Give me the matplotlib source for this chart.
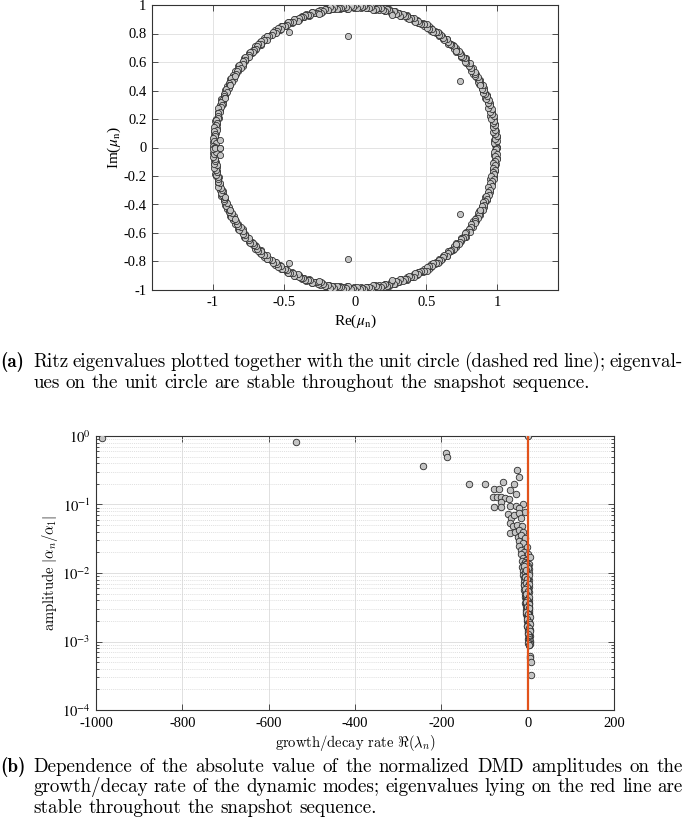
import numpy as np
import matplotlib
matplotlib.use("Agg")
import matplotlib.pyplot as plt
from matplotlib.patches import Circle
from matplotlib.ticker import LogLocator, NullFormatter

plt.rcParams['axes.unicode_minus'] = False
plt.rcParams['mathtext.fontset'] = 'stix'

# ---- (a) Ritz eigenvalues, upper half plane (conjugates mirrored below) ----
ring_deg = [
    0.3, 1.1, 2.4, 3.0, 4.2, 4.9, 5.9, 6.8, 7.6, 8.9,
    9.5, 10.6, 11.4, 12.5, 13.1, 14.3, 15.0, 16.2, 16.9, 18.1,
    18.8, 19.9, 20.7, 21.6, 22.8, 23.4, 24.6, 25.3, 26.5, 27.2,
    28.4, 29.0, 30.3, 31.1, 31.9, 33.0, 33.8, 35.0, 35.7, 36.8,
    37.6, 38.7, 39.5, 40.6, 41.3, 42.5, 43.2, 44.4, 45.0, 46.3,
    47.1, 48.0, 49.2, 49.9, 51.0, 51.8, 53.0, 53.6, 54.8, 55.5,
    56.7, 57.4, 58.5, 59.3, 60.4, 61.2, 62.3, 63.1, 64.2, 64.9,
    66.1, 66.9, 68.0, 68.7, 69.9, 70.6, 71.8, 72.5, 73.6, 74.4,
    75.5, 76.3, 77.4, 78.1, 79.3, 80.0, 81.2, 81.9, 83.0, 83.8,
    84.9, 85.7, 86.8, 87.5, 88.7, 89.4, 90.6, 91.3, 92.4, 93.2,
    94.3, 95.1, 96.2, 96.9, 98.1, 98.8, 99.9, 100.7, 101.8, 102.6,
    103.7, 104.4, 105.6, 106.3, 107.5, 108.2, 109.3, 110.1, 111.2, 112.0,
    113.1, 113.8, 115.0, 115.7, 116.8, 117.6, 118.7, 119.5, 120.6, 121.3,
    122.5, 123.2, 124.3, 125.1, 126.2, 127.0, 128.1, 128.8, 130.0, 130.7,
    131.9, 132.6, 133.7, 134.5, 135.6, 136.4, 137.5, 138.2, 139.4, 140.1,
    141.2, 142.0, 143.1, 143.9, 145.0, 145.7, 146.9, 147.6, 148.8, 149.5,
    150.6, 151.4, 152.5, 153.3, 154.4, 155.1, 156.3, 157.0, 158.2, 158.9,
    160.0, 160.8, 161.9, 162.7, 163.8, 164.5, 165.7, 166.4, 167.6, 168.3,
    169.4, 170.2, 171.3, 172.1, 173.2, 173.9, 175.1, 175.8, 177.0, 177.7,
    178.8, 179.6,
    0.7, 1.8, 2.7, 3.6, 4.5, 5.4, 6.3, 7.2, 8.3, 9.2,
    10.0, 11.0, 11.9, 12.8, 13.7, 14.6, 15.6, 16.5, 17.5, 18.4,
    19.4, 20.3, 21.2, 22.2, 23.1, 24.0, 24.9, 25.9, 26.8, 27.8,
    28.7, 29.7, 30.7, 31.5, 32.4, 33.4, 34.4, 35.3, 36.2, 37.2,
    38.1, 39.1, 40.0, 40.9, 41.9, 42.8, 43.8, 44.7, 45.6, 46.7,
    47.5, 48.6, 49.5, 50.4, 51.4, 52.4, 53.3, 54.2, 55.1, 56.1,
    57.0, 58.0, 58.9, 59.8, 60.8, 61.7, 62.7, 63.6, 64.5, 65.5,
    66.5, 67.4, 68.3, 69.3, 70.2, 71.2, 72.1, 73.0, 74.0, 74.9,
    75.9, 76.8, 77.7, 78.7, 79.6, 80.6, 81.5, 82.4, 83.4, 84.3,
    85.3, 86.2, 87.1, 88.1, 89.0, 90.0, 90.9, 91.8, 92.8, 93.7,
    94.7, 95.6, 96.5, 97.5, 98.4, 99.3, 100.3, 101.2, 102.2, 103.1,
    104.0, 105.0, 105.9, 106.9, 107.8, 108.7, 109.7, 110.6, 111.6, 112.5,
    113.4, 114.4, 115.3, 116.2, 117.2, 118.1, 119.1, 120.0, 120.9, 121.9,
    122.8, 123.7, 124.7, 125.6, 126.6, 127.5, 128.4, 129.4, 130.3, 131.3,
    132.2, 133.1, 134.1, 135.0, 136.0, 136.9, 137.8, 138.8, 139.7, 140.6,
    141.6, 142.5, 143.5, 144.4, 145.3, 146.3, 147.2, 148.2, 149.1, 150.0,
    151.0, 151.9, 152.9, 153.8, 154.7, 155.7, 156.6, 157.6, 158.5, 159.4,
    160.4, 161.3, 162.3, 163.2, 164.1, 165.1, 166.0, 167.0, 167.9, 168.8,
    169.8, 170.7, 171.7, 172.6, 173.5, 174.5, 175.4, 176.3, 177.3, 178.2,
    179.2, 179.9,
]
ring_mod = [
    0.998, 0.984, 0.992, 0.979, 0.996, 0.987, 0.981, 0.999, 0.990, 0.977,
    0.994, 0.983, 0.997, 0.988, 0.976, 0.995, 0.985, 0.991, 0.980, 0.998,
    0.986, 0.993, 0.978, 0.999, 0.989, 0.982, 0.996, 0.984, 0.992, 0.979,
    0.997, 0.988, 0.981, 0.994, 0.977, 0.990, 0.998, 0.983, 0.987, 0.995,
    0.982, 0.999, 0.986, 0.978, 0.993, 0.989, 0.976, 0.997, 0.984, 0.991,
    0.995, 0.980, 0.988, 0.998, 0.983, 0.992, 0.979, 0.996, 0.986, 0.990,
    0.977, 0.994, 0.999, 0.985, 0.981, 0.997, 0.989, 0.983, 0.993, 0.978,
    0.996, 0.987, 0.980, 0.998, 0.991, 0.976, 0.994, 0.985, 0.999, 0.982,
    0.990, 0.997, 0.979, 0.986, 0.995, 0.983, 0.992, 0.977, 0.998, 0.988,
    0.984, 0.996, 0.991, 0.978, 0.999, 0.987, 0.981, 0.994, 0.989, 0.976,
    0.997, 0.985, 0.980, 0.993, 0.998, 0.982, 0.990, 0.979, 0.995, 0.986,
    0.977, 0.999, 0.988, 0.983, 0.996, 0.991, 0.978, 0.994, 0.984, 0.997,
    0.989, 0.981, 0.998, 0.986, 0.976, 0.993, 0.999, 0.982, 0.987, 0.995,
    0.980, 0.992, 0.997, 0.978, 0.990, 0.985, 0.996, 0.983, 0.999, 0.988,
    0.994, 0.979, 0.986, 0.998, 0.981, 0.991, 0.977, 0.995, 0.989, 0.984,
    0.997, 0.982, 0.993, 0.976, 0.999, 0.987, 0.980, 0.996, 0.985, 0.990,
    0.978, 0.998, 0.988, 0.983, 0.994, 0.979, 0.997, 0.986, 0.992, 0.981,
    0.999, 0.984, 0.977, 0.995, 0.989, 0.982, 0.996, 0.987, 0.980, 0.993,
    0.998, 0.985, 0.991, 0.978, 0.997, 0.983, 0.994, 0.988, 0.976, 0.999,
    0.986, 0.992,
    0.989, 0.978, 0.995, 0.983, 0.999, 0.986, 0.976, 0.993, 0.981, 0.997,
    0.984, 0.991, 0.979, 0.998, 0.987, 0.982, 0.996, 0.977, 0.990, 0.985,
    0.999, 0.980, 0.992, 0.988, 0.976, 0.995, 0.983, 0.997, 0.986, 0.979,
    0.993, 0.998, 0.981, 0.987, 0.994, 0.978, 0.990, 0.984, 0.999, 0.982,
    0.977, 0.996, 0.988, 0.980, 0.992, 0.999, 0.985, 0.979, 0.994, 0.987,
    0.983, 0.990, 0.997, 0.976, 0.986, 0.993, 0.981, 0.998, 0.989, 0.978,
    0.995, 0.984, 0.979, 0.999, 0.991, 0.982, 0.987, 0.994, 0.977, 0.996,
    0.988, 0.980, 0.993, 0.985, 0.998, 0.976, 0.990, 0.983, 0.997, 0.981,
    0.992, 0.999, 0.978, 0.986, 0.995, 0.989, 0.982, 0.977, 0.994, 0.984,
    0.979, 0.996, 0.987, 0.991, 0.980, 0.998, 0.985, 0.993, 0.976, 0.990,
    0.997, 0.983, 0.988, 0.978, 0.994, 0.986, 0.999, 0.981, 0.992, 0.984,
    0.976, 0.995, 0.982, 0.990, 0.998, 0.979, 0.987, 0.996, 0.985, 0.993,
    0.989, 0.977, 0.997, 0.984, 0.991, 0.999, 0.980, 0.988, 0.994, 0.982,
    0.996, 0.986, 0.978, 0.993, 0.983, 0.990, 0.998, 0.976, 0.987, 0.995,
    0.981, 0.999, 0.992, 0.979, 0.988, 0.984, 0.995, 0.990, 0.977, 0.997,
    0.985, 0.993, 0.980, 0.998, 0.976, 0.991, 0.987, 0.983, 0.996, 0.989,
    0.999, 0.978, 0.994, 0.986, 0.982, 0.997, 0.979, 0.992, 0.988, 0.984,
    0.990, 0.996, 0.977, 0.985, 0.999, 0.981, 0.993, 0.987, 0.980, 0.995,
    0.983, 0.988, 0.998, 0.976, 0.994, 0.989, 0.984, 0.997, 0.991, 0.979,
    0.996, 0.986,
]
# eigenvalues away from the unit circle (upper half)
off_re = [-0.46, -0.05, 0.737, -0.95, -0.95, -0.25, 0.26, -0.91, -0.88, -0.845, 0.877, 0.71]
off_im = [0.81, 0.78, 0.47, 0.05, 0.0, 0.94, 0.93, 0.35, 0.44, 0.50, 0.44, 0.68]

# ---- (b) amplitude vs growth/decay rate ----
rate = [
    -986, -536, -243, -189, -186, -135, -98, 0,
    -24, -20, -58, -77, -66, -42, -31, -28, -80, -70, -61, -53, -62, -43,
    -77, -61, -42, -11, -26, -19, -7, -46, -38, -32, -21, -15, -42, -34,
    -25, -13, -40, -30, -20, -11, -22, -15, -6, -19, -11, -1, -21, -16,
    -9, 0, -15, -11, -3, 5,
    -13, -7, -1, 3, -10, -4, 1, -12, -6, 4, -9, -2, -11, -5, 2, -8, -3,
    -10, 0, -6, -9, -2, 3, -7, -4, -9, 1, -5, -8, -2, 2, -6, -3, -8, 0,
    -5, 3, -7, -2, -5, 1, -6, -3, 2, -4, -1, -6, 3, -3, 0, -5, 2, -2, 4,
    -4, 1, -1, 3, -3, 2, -1, 4, 0, -2, 3, 1, -1, 4, 2, 0, 5, 3, 1, 4, 2,
    5, 3, 1, 4, 2, 5, 3, 4, 2,
    -5, 0, -7, -4, 1, -1, -3, -9, 0, -3, -1, -3, 0, 1, -2, 1, -1, 3, 0,
    -2, 1, 3, 0, 2, 0, 3, 0, 2, 3, 4, 3, 4, 2,
    -8, -3, 2, -6, -1, -4, 2, -2, -6, 1, -4, 3, -1, -4, 2, -2, 4, -3, 1,
    5, -1, 2, 5, -1, 3, 5, 1, 4, 2, 6, 3, 5, 1, 3,
    5, 6, 7, 8,
]
amp = [
    0.925, 0.81, 0.37, 0.57, 0.50, 0.20, 0.20, 1.0,
    0.32, 0.25, 0.21, 0.168, 0.167, 0.163, 0.20, 0.142, 0.130, 0.13, 0.127,
    0.126, 0.11, 0.119, 0.091, 0.093, 0.095, 0.10, 0.095, 0.088, 0.079,
    0.072, 0.063, 0.07, 0.074, 0.063, 0.053, 0.049, 0.051, 0.048, 0.039,
    0.040, 0.042, 0.040, 0.034, 0.036, 0.032, 0.029, 0.027, 0.024, 0.025,
    0.0217, 0.0205, 0.0189, 0.019, 0.0163, 0.0155, 0.0173,
    0.0148, 0.0144, 0.0140, 0.0137, 0.0133, 0.0129, 0.0126, 0.0122, 0.0119,
    0.0116, 0.0113, 0.0110, 0.0107, 0.0104, 0.0101, 0.0098, 0.0095, 0.0093,
    0.0090, 0.0087, 0.0085, 0.0082, 0.0080, 0.0077, 0.0075, 0.0073, 0.0071,
    0.0069, 0.0067, 0.0065, 0.0063, 0.0061, 0.0059, 0.0057, 0.0055, 0.0053,
    0.0052, 0.0050, 0.0048, 0.0047, 0.0045, 0.0044, 0.0042, 0.0041, 0.0040,
    0.0038, 0.0037, 0.0036, 0.0035, 0.0034, 0.0033, 0.0032, 0.0031, 0.0030,
    0.0029, 0.0028, 0.0027, 0.0026, 0.0025, 0.0024, 0.0023, 0.0022, 0.0021,
    0.0020, 0.0019, 0.0018, 0.0017, 0.0016, 0.00155, 0.0015, 0.00145, 0.0014,
    0.00135, 0.0013, 0.00125, 0.0012, 0.00115, 0.0011, 0.00105, 0.0010,
    0.00097, 0.00094, 0.00091, 0.00089,
    0.0135, 0.0118, 0.0102, 0.0091, 0.0084, 0.0078, 0.0070, 0.0066, 0.0060,
    0.0056, 0.0051, 0.0046, 0.0043, 0.0039, 0.0036, 0.0033, 0.0030, 0.0028,
    0.0026, 0.0024, 0.0022, 0.0020, 0.0019, 0.0017, 0.0016, 0.0015, 0.0014,
    0.0013, 0.0012, 0.0011, 0.00102, 0.00095, 0.00092,
    0.0125, 0.0112, 0.0095, 0.0088, 0.0081, 0.0072, 0.0068, 0.0062, 0.0058,
    0.0054, 0.0049, 0.0045, 0.0041, 0.0038, 0.0035, 0.0032, 0.0031, 0.0027,
    0.0025, 0.0023, 0.0021, 0.0019, 0.0018, 0.0017, 0.0016, 0.0014, 0.0013,
    0.00118, 0.00108, 0.00101, 0.00098, 0.00093, 0.00096, 0.0009,
    0.00062, 0.00057, 0.00051, 0.00032,
]

cap_a = ("Ritz eigenvalues plotted together with the unit circle (dashed red line); eigenval-",
         "ues on the unit circle are stable throughout the snapshot sequence.")
cap_b = ("Dependence of the absolute value of the normalized DMD amplitudes on the",
         "growth/decay rate of the dynamic modes; eigenvalues lying on the red line are",
         "stable throughout the snapshot sequence.")

W, H = 685, 817
fig = plt.figure(figsize=(W / 100, H / 100), dpi=100)

face = '#c4c4c4'
edge = '#2b2b2b'
spine = '#333333'
tick_font = dict(family='Liberation Serif', size=10.5)


def style_axes(ax):
    for s in ax.spines.values():
        s.set_color(spine)
        s.set_linewidth(0.8)
    ax.tick_params(which='both', direction='in', top=True, right=True,
                   color=spine, width=0.6, labelsize=tick_font['size'], pad=4)
    ax.tick_params(which='major', length=4)
    ax.tick_params(which='minor', length=2)
    for lab in ax.get_xticklabels() + ax.get_yticklabels():
        lab.set_family(tick_font['family'])
    ax.set_axisbelow(True)


# ---- top panel ----
ax1 = fig.add_axes([152 / W, 1 - 290 / H, 406 / W, 285 / H])
th = np.deg2rad(ring_deg)
mod = np.array(ring_mod)
re_u = mod * np.cos(th)
im_u = mod * np.sin(th)
re_all = np.concatenate([re_u, re_u, off_re, off_re])
im_all = np.concatenate([im_u, -im_u, off_im, -np.array(off_im)])
ax1.add_patch(Circle((0, 0), 1, fill=False, ls=(0, (4, 3)), color='#e02020', lw=0.6, zorder=2))
ax1.scatter(re_all, im_all, s=20, facecolor=face, edgecolor=edge, linewidths=0.55, zorder=3)
ax1.set_xlim(-1.425, 1.425)
ax1.set_ylim(-1, 1)
ax1.set_xticks([-1, -0.5, 0, 0.5, 1])
ax1.set_xticklabels(['-1', '-0.5', '0', '0.5', '1'])
yt = [-1, -0.8, -0.6, -0.4, -0.2, 0, 0.2, 0.4, 0.6, 0.8, 1]
ax1.set_yticks(yt)
ax1.set_yticklabels(['-1', '-0.8', '-0.6', '-0.4', '-0.2', '0', '0.2', '0.4', '0.6', '0.8', '1'])
ax1.grid(True, color='#e3e3e3', lw=0.7)
style_axes(ax1)
ax1.set_xlabel(r'Re($\mu_{\rm n}$)', family='Liberation Serif', fontsize=11, labelpad=3)
ax1.set_ylabel(r'Im($\mu_{\rm n}$)', family='Liberation Serif', fontsize=11, labelpad=0)

# ---- bottom panel ----
ax2 = fig.add_axes([96 / W, 1 - 710 / H, 518 / W, 274 / H])
ax2.scatter(rate, amp, s=22, facecolor=face, edgecolor=edge, linewidths=0.6, zorder=3)
ax2.axvline(0, color='#e2531c', lw=1.6, zorder=4)
ax2.set_yscale('log')
ax2.set_xlim(-1000, 200)
ax2.set_ylim(1e-4, 1)
ax2.set_xticks(range(-1000, 201, 200))
ax2.set_xticklabels([str(v) for v in range(-1000, 201, 200)])
ax2.set_yticks([1e-4, 1e-3, 1e-2, 1e-1, 1])
ax2.set_yticklabels([r'$10^{-4}$', r'$10^{-3}$', r'$10^{-2}$', r'$10^{-1}$', r'$10^{0}$'])
ax2.yaxis.set_minor_locator(LogLocator(base=10, subs=np.arange(2, 10), numticks=20))
ax2.yaxis.set_minor_formatter(NullFormatter())
ax2.grid(True, which='major', color='#e0e0e0', lw=0.7)
ax2.grid(True, which='minor', axis='y', color='#d4d4d4', lw=0.5, ls=(0, (1.5, 1.5)))
style_axes(ax2)
ax2.tick_params(axis='x', pad=5)
ax2.set_xlabel(r'growth/decay rate $\Re(\lambda_n)$', family='cmr10', math_fontfamily='cm',
               fontsize=10.5, labelpad=2)
ax2.set_ylabel(r'amplitude $|\alpha_n/\alpha_1|$', family='cmr10', math_fontfamily='cm',
               fontsize=10.5, labelpad=1)

# ---- captions (justified like the LaTeX source) ----
renderer = fig.canvas.get_renderer()
cap_size = 13.7


def put_line(text, x0, x1, y, justify):
    words = text.split()
    arts = [fig.text(0, 1 - y / H, w, family='cmr10', fontsize=cap_size, va='baseline')
            for w in words]
    widths = [a.get_window_extent(renderer).width for a in arts]
    if justify and len(words) > 1:
        gap = (x1 - x0 - sum(widths)) / (len(words) - 1)
    else:
        gap = 0.333 * cap_size * 100 / 72
    x = x0
    for a, w in zip(arts, widths):
        a.set_x(x / W)
        x += w + gap


def caption(tag, lines, y0, step=20.6):
    fig.text(0.5 / W, 1 - y0 / H, tag, family='cmb10', fontsize=cap_size, va='baseline')
    for i, line in enumerate(lines):
        put_line(line, 33, 683, y0 + i * step, i < len(lines) - 1)


caption('(a)', cap_a, 367)
caption('(b)', cap_b, 772, step=20.3)

fig.savefig('out.png', dpi=100)
